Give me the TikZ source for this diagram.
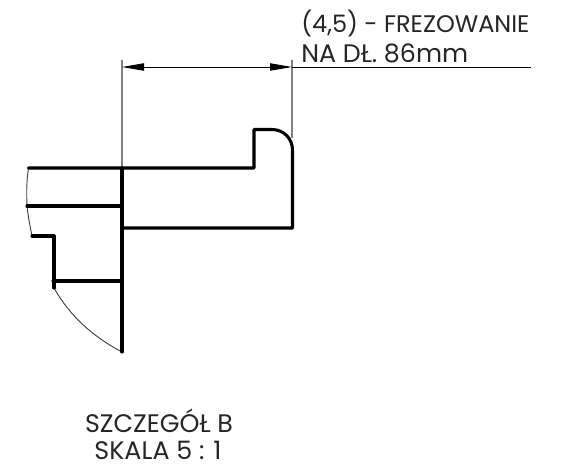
\documentclass[tikz,border=0pt]{standalone}
\usepackage{fontspec}
\setmainfont{Poppins}
\usetikzlibrary{arrows.meta}
\tikzset{
  outline/.style={line width=2.3pt,black,line cap=round,line join=round},
  thinline/.style={line width=0.7pt,black!75},
  extline/.style={line width=0.8pt,black!50},
  dimline/.style={line width=0.65pt,black},
  solidtip/.style={{Triangle[length=16.5pt,width=5.5pt]}-{Triangle[length=16.5pt,width=5.5pt]}},
  label/.style={inner sep=0pt,font=\fontsize{18pt}{21pt}\selectfont,text=black!85},
  biglabel/.style={label,font=\fontsize{19pt}{22pt}\selectfont}
}
\begin{document}
\begin{tikzpicture}[x=0.75pt,y=-0.75pt]
\useasboundingbox (0,0) rectangle (572,468);
\fill[white] (0,0) rectangle (572,468);
% extension lines
\draw[extline] (122,60) -- (122,168);
\draw[extline] (292,60) -- (292,138);
% dimension and leader
\coordinate (dl) at (122,67);
\coordinate (dr) at (292,67);
\coordinate (lead) at (531,67);
\draw[dimline,solidtip] (dl) -- (dr);
\draw[dimline] (dr) -- (lead);
% thin curves
\draw[thinline] (28.5,168) .. controls (26.5,180) and (26.5,194) .. (27,206) .. controls (28,216) and (30,226) .. (32,236);
\draw[thinline] (54,288) .. controls (70,316) and (92,336) .. (122,352);
% outlines
\draw[outline] (28.5,168) -- (254,168) -- (254,129.5) -- (272,129.5) .. controls (283.5,129.5) and (292.5,138.5) .. (292.5,150) -- (292.5,228) -- (122,228);
\draw[outline] (122,168) -- (122,352);
\draw[outline] (27,206) -- (122,206);
\draw[outline] (32,236) -- (54,236) -- (54,288);
\draw[outline] (53,281) -- (122,281);
% texts
\node[label,anchor=base west] (t1) at (301,32) {(4,5) - FREZOWANIE};
\node[biglabel,anchor=base west] (t2) at (301,62) {NA DŁ. 86mm};
\node[biglabel,anchor=base] (t3) at (159,432) {SZCZEGÓŁ B};
\node[biglabel,anchor=base] (t4) at (158,459) {SKALA 5 : 1};
\end{tikzpicture}
\end{document}
